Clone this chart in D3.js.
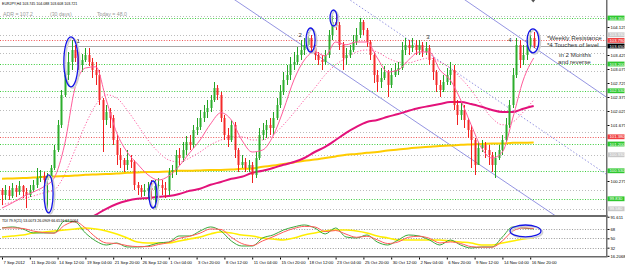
<!DOCTYPE html>
<html><head><meta charset="utf-8">
<script src="https://cdn.jsdelivr.net/npm/d3@7"></script>
<style>
body{margin:0;background:#fff}
svg{display:block}
text{font-family:"Liberation Sans",Arial,sans-serif}
</style></head>
<body><svg id="c" width="625" height="266"></svg>
<script>
// ---------- DATA (EURJPY H4, 2 bars per candle) ----------
const symbolTitle = "EURJPY,H4 103.745 104.088 103.608 103.721";
const adrText = ["ADR = 107.2", "(30 days)", "Today = 48.0"];
const tdiTitle = "TDI 79.9(21) 53.0073 26.0909 66.6516 67.5064";
const firstOpen = 100.05;
const closes = [99.925,100.05,99.9,100.1,100.0,100.15,100.0,99.925,100.05,100.175,
100.35,100.4,100.3,100.35,100.6,101.05,101.675,102.425,102.925,103.25,
103.55,103.35,103.175,103.3,103.425,103.25,103.05,102.925,102.3,101.8,
102.0,101.85,101.3,100.925,100.8,100.675,100.8,100.75,100.175,100.1,
100.0,100.05,100.1,100.05,100.15,100.175,100.1,100.05,100.5,100.55,
100.925,100.85,101.05,101.25,101.175,101.55,101.625,101.85,102.0,102.1,
102.3,102.6,102.425,101.85,101.425,101.3,101.675,101.05,100.675,100.75,
100.6,100.675,100.425,100.85,101.425,101.55,101.675,101.6,101.85,102.175,
102.5,102.8,102.925,103.175,103.25,103.425,103.55,103.675,103.85,103.6,
103.425,103.3,103.25,103.425,103.925,104.25,104.175,103.675,103.35,103.425,
103.55,103.75,103.925,104.25,104.05,103.75,103.425,102.925,102.75,102.85,
103.0,102.675,102.925,103.05,103.1,103.55,103.675,103.6,103.675,103.55,
103.675,103.5,103.6,103.3,103.0,102.675,102.55,102.75,102.925,103.05,
102.175,101.925,102.05,101.8,101.55,101.3,100.675,101.1,101.175,101.05,
100.925,100.675,100.85,101.05,101.3,101.675,102.175,102.925,103.675,103.3,
103.425,103.675,103.85,103.65];
const highs = [100.1,100.175,100.15,100.225,100.175,100.275,100.175,100.1,100.175,100.3,
100.6,100.55,100.5,100.475,100.675,101.175,101.8,102.55,103.1,103.5,
103.8,103.675,103.5,103.45,103.6,103.6,103.35,103.25,103.05,102.35,
102.175,102.1,101.925,101.425,101.1,100.85,101.05,100.925,100.8,100.25,
100.175,100.2,100.25,100.3,100.3,100.35,100.3,100.25,100.6,100.675,
101.05,101.1,101.25,101.4,101.425,101.675,101.85,102.05,102.175,102.3,
102.425,102.75,102.675,102.5,101.925,101.6,101.8,101.75,101.1,100.925,
100.85,100.8,100.75,101.0,101.6,101.725,101.8,101.85,102.0,102.35,
102.675,103.0,103.175,103.375,103.5,103.625,103.8,103.85,104.0,103.925,
103.675,103.5,103.425,103.55,104.05,104.425,104.475,104.25,103.75,103.6,
103.675,103.925,104.1,104.35,104.3,104.1,103.8,103.5,103.05,103.1,
103.15,103.05,103.1,103.225,103.25,103.75,103.85,103.8,103.85,103.8,
103.8,103.75,103.75,103.675,103.375,103.05,102.8,102.925,103.1,103.25,
103.175,102.3,102.225,102.175,101.85,101.675,101.35,101.25,101.3,101.25,
101.175,101.0,101.0,101.175,101.425,101.85,102.3,103.1,103.85,103.8,
103.675,103.8,104.05,104.0];
const lows = [99.675,99.8,99.8,99.85,99.875,99.925,99.85,99.6,99.875,100.0,
100.1,100.25,100.175,99.55,100.25,100.55,101.0,101.6,102.375,102.8,
103.05,103.25,103.05,103.0,103.25,103.15,102.85,102.675,102.175,101.0,
101.675,101.6,101.175,100.675,100.6,100.5,100.55,100.6,100.05,99.925,
99.875,99.9,99.85,99.8,99.6,100.0,99.925,99.85,99.925,100.35,
100.425,100.675,100.75,100.925,101.05,101.1,101.425,101.55,101.75,101.85,
102.0,102.25,102.3,101.75,101.3,101.125,101.25,100.85,100.5,100.6,
100.5,100.5,100.225,100.35,100.8,101.3,101.35,101.425,101.425,101.8,
102.1,102.425,102.675,102.8,103.05,103.175,103.3,103.425,103.55,103.5,
103.3,103.175,103.05,103.175,103.35,103.8,104.05,103.55,103.05,103.175,
103.35,103.5,103.675,103.85,103.925,103.625,103.3,102.725,102.5,102.6,
102.8,102.375,102.6,102.875,102.925,103.05,103.425,103.425,103.5,103.425,
103.425,103.375,103.425,103.175,102.8,102.5,102.375,102.5,102.675,102.675,
102.05,101.675,101.8,101.6,101.35,100.6,100.425,100.675,101.0,100.85,
100.675,100.5,100.35,100.8,100.925,101.25,101.6,102.1,102.85,103.1,
103.175,103.3,103.55,103.6];
// indicator samples, one every 3 candles
const sampleStep = 3;
const maYellow = [100.33,100.34,100.35,100.36,100.38,100.39,100.40,100.41,100.43,100.44,
100.45,100.46,100.48,100.49,100.50,100.50,100.51,100.53,100.53,100.54,
100.55,100.55,100.56,100.58,100.59,100.63,100.66,100.70,100.74,100.78,
100.81,100.85,100.89,100.93,100.95,100.98,101.00,101.04,101.06,101.09,
101.11,101.13,101.15,101.16,101.18,101.19,101.20,101.21,101.21,101.23,101.23,101.24];
const maMagenta = [null,null,null,null,null,null,null,null,99.28,99.43,
99.58,99.70,99.78,99.83,99.85,99.88,99.90,99.95,100.03,100.08,
100.18,100.25,100.33,100.38,100.48,100.53,100.60,100.68,100.75,100.85,
101.00,101.13,101.30,101.48,101.63,101.75,101.80,101.88,101.95,102.03,
102.10,102.15,102.20,102.25,102.25,102.20,102.13,102.05,102.00,102.00,102.08,102.15];
const maFastPink = [99.60,99.73,99.88,100.00,100.13,100.35,101.18,102.60,103.10,103.13,
102.30,101.48,101.00,100.70,100.43,100.30,100.40,100.65,100.98,101.30,
101.70,101.98,101.80,101.30,101.00,101.05,101.40,102.05,102.80,103.30,
103.50,103.40,103.75,103.68,103.75,103.75,103.35,103.00,103.05,103.30,
103.50,103.50,103.05,102.80,102.30,101.68,101.10,100.85,101.00,101.85,102.80,103.35];
const maDottedPink = [99.68,99.75,99.83,99.90,99.98,100.05,100.43,101.05,101.68,102.18,
102.43,102.35,102.05,101.68,101.30,101.00,100.80,100.75,100.85,101.00,
101.18,101.30,101.38,101.38,101.30,101.30,101.43,101.68,101.98,102.30,
102.60,102.93,103.18,103.35,103.50,103.55,103.50,103.35,103.25,103.23,
103.30,103.35,103.25,103.10,102.85,102.55,102.18,101.85,101.68,101.75,102.00,102.30];
const tdiGreen = [69.9,71.9,68,60.3,60.3,60.3,83.4,81.5,60.3,44.8,
37.1,41,33.3,33.3,35.2,41,42.9,54.5,54.5,64.1,
71.9,64.1,44.8,35.2,35.2,50.6,56.4,66,71.9,75.7,
69.9,58.4,69.9,52.6,50.6,56.4,42.9,37.1,46.8,56.4,
54.5,46.8,37.1,46.8,37.1,31.3,33.3,33.3,52.6,71.9,69.9,68];
const tdiRed = [70,70,69,64,61,60,75,82,70,52,
41,40,36,34,34,38,42,50,54,60,
68,67,52,40,36,45,53,62,69,73,
72,63,65,58,52,54,47,40,43,52,
54,50,41,43,40,34,33,33,45,64,70,69];
const tdiYellow = [52.6,54.5,56.4,60.3,62.2,64.1,66,68,69.9,68,
64.1,58.4,50.6,42.9,41,41,41,44.8,48.7,52.6,
58.4,62.2,60.3,56.4,54.5,50.6,48.7,46.8,50.6,56.4,
60.3,64.1,66,66,64.1,60.3,54.5,50.6,46.8,46.8,
46.8,46.8,46.8,44.8,42.9,41,37.1,37.1,41,44.8,48.7,50.6];
const tdiLevels = [68, 50, 32];
const tdiAxisLabels = ["91.611","68","50","32","16.2068"];
const tdiAxisValues = [91.611,68,50,32,16.2068];
// horizontal levels
const greyLevels = [104.41,103.93,103.48,103.03,102.38,102.05,101.50,100.93,100.05,99.58];
const greenLevels = [104.35,103.20,102.53,101.20,100.53,99.83];
const redLevels = [103.79,101.38];
const greyBoxLevels = [103.93,100.93,99.58];
const bidPrice = 103.65;
const priceTicks = [104.125,103.425,103.075,102.725,102.375,102.025,101.675,100.275];
const timeLabels = ["7 Sep 2012","11 Sep 20:00","14 Sep 12:00","19 Sep 04:00","21 Sep 20:00","26 Sep 12:00","1 Oct 04:00","3 Oct 20:00","8 Oct 12:00","11 Oct 04:00","15 Oct 20:00","18 Oct 12:00","23 Oct 04:00","25 Oct 20:00","30 Oct 12:00","2 Nov 04:00","6 Nov 20:00","9 Nov 12:00","14 Nov 04:00","16 Nov 20:00"];
const candlesPerLabel = 8;
// annotations (candle index / price)
const ellipses = [[17.8,21.9,103.88,102.63],[12.1,14.7,100.43,99.48],[42.3,44.6,100.28,99.60],[87.5,90.1,104.10,103.50],[94.4,96.4,104.55,104.15],[151.1,154.5,104.08,103.48]];
const tdiEllipse = [146.2,155.1,75.7,52.6];
const trendLines = [[67.9,104.75,149.1,100.0,"solid"],[101,104.75,173.8,100.45,"dot"],[134.1,104.75,173.8,102.38,"solid"]];
const waveLabels = [["1",21.9,103.73],["2",85.8,103.88],["3",122.6,103.83],["4",146.2,103.75]];
const noteLines = [["*Weekly Resistance",156.8,103.81],["*4 Touches of level",156.8,103.62],["in 2 Months",160.3,103.37],["and reverse",160.0,103.19]];

// ---------- LAYOUT ----------
const svg = d3.select("#c");
const plotR = 606, mainB = 215, tdiT = 217, tdiB = 256;
const x = d3.scaleLinear().domain([0,152]).range([2,530.2]);
const y = d3.scaleLinear().domain([99.425,104.8]).range([215,0]);
const yT = d3.scaleLinear().domain([14,93]).range([257,216]);
const defs = svg.append("defs");
defs.append("clipPath").attr("id","cm").append("rect").attr("x",0).attr("y",0).attr("width",plotR).attr("height",mainB);
defs.append("clipPath").attr("id","ct").append("rect").attr("x",0).attr("y",tdiT).attr("width",plotR).attr("height",tdiB-tdiT);

svg.append("rect").attr("width",625).attr("height",266).attr("fill","#fff");
const gm = svg.append("g").attr("clip-path","url(#cm)");
const gt = svg.append("g").attr("clip-path","url(#ct)");

// levels
function hline(g, p, col, dash, w){
  g.append("line").attr("x1",0).attr("x2",plotR).attr("y1",Math.round(y(p))+0.5).attr("y2",Math.round(y(p))+0.5)
   .attr("stroke",col).attr("stroke-width",w||1).attr("stroke-dasharray",dash);
}
greyLevels.forEach(p=>hline(gm,p,"#bcbcbc","1,2"));
greenLevels.forEach(p=>hline(gm,p,"#3ccc3c","1,1.6"));
redLevels.forEach(p=>hline(gm,p,"#ee5555","1,1.6"));
hline(gm,bidPrice,"#a8a8a8",null,1.2);

// trendlines
trendLines.forEach(t=>{
  const x1=x(t[0]),y1=y(t[1]),x2=x(t[2]),y2=y(t[3]);
  const s=(y2-y1)/(x2-x1);
  gm.append("line").attr("x1",x1-20).attr("y1",y1-20*s).attr("x2",x2+60).attr("y2",y2+60*s)
    .attr("stroke","#8a8ae0").attr("stroke-width",1).attr("opacity",0.9)
    .attr("stroke-dasharray",t[4]==="dot"?"1.5,2":null);
});

// moving averages
const idx = (d,k)=>x(k*sampleStep);
function maLine(g, arr, col, w, dash, sc){
  const ln = d3.line().defined(d=>d!=null).x((d,k)=>idx(d,k)).y(d=>sc(d)).curve(d3.curveMonotoneX);
  g.append("path").datum(arr).attr("d",ln).attr("fill","none").attr("stroke",col)
   .attr("stroke-width",w).attr("stroke-dasharray",dash).attr("stroke-linejoin","round");
}
maLine(gm, maDottedPink, "#ff5fa3", 1, "1.2,1.8", y);
maLine(gm, maYellow, "#ffcc00", 2, null, y);
maLine(gm, maMagenta, "#e3127a", 2, null, y);

// candles
const opens = closes.map((c,i)=> i===0 ? firstOpen : closes[i-1]);
const cd = closes.map((c,i)=>({i, o:opens[i], c, h:Math.max(highs[i],opens[i],c), l:Math.min(lows[i],opens[i],c)}));
const cg = gm.append("g");
cg.selectAll("line.w").data(cd).join("line").attr("class","w")
  .attr("x1",d=>Math.round(x(d.i))+0.5).attr("x2",d=>Math.round(x(d.i))+0.5)
  .attr("y1",d=>y(d.h)).attr("y2",d=>y(d.l))
  .attr("stroke",d=>d.c>=d.o?"#24a424":"#f02020").attr("stroke-width",1);
cg.selectAll("rect.b").data(cd).join("rect").attr("class","b")
  .attr("x",d=>Math.round(x(d.i))-0.5).attr("width",2)
  .attr("y",d=>y(Math.max(d.o,d.c))).attr("height",d=>Math.max(1,Math.abs(y(d.o)-y(d.c))))
  .attr("fill",d=>d.c>=d.o?"#2cae2c":"#f42a2a");

maLine(gm, maFastPink, "#ff5c9a", 1, null, y);

// ellipses
function ell(g, e, sc){
  const cx=(x(e[0])+x(e[1]))/2, rx=(x(e[1])-x(e[0]))/2, cy=(sc(e[2])+sc(e[3]))/2, ry=Math.abs(sc(e[3])-sc(e[2]))/2;
  g.append("ellipse").attr("cx",cx+1.6).attr("cy",cy+1.2).attr("rx",rx).attr("ry",ry).attr("fill","none").attr("stroke","#d0d0d0").attr("stroke-width",1.6);
  g.append("ellipse").attr("cx",cx).attr("cy",cy).attr("rx",rx).attr("ry",ry).attr("fill","none").attr("stroke","#1414e6").attr("stroke-width",1.3);
}
ellipses.forEach(e=>ell(gm,e,y));

// labels in main pane
waveLabels.forEach(w=>gm.append("text").attr("x",x(w[1])).attr("y",y(w[2])).attr("font-size",6).attr("fill","#333").attr("text-anchor","middle").text(w[0]));
noteLines.forEach(n=>gm.append("text").attr("x",x(n[1])).attr("y",y(n[2])).attr("font-size",6.2).attr("fill","#333").text(n[0]));
svg.append("text").attr("x",2).attr("y",5).attr("font-size",3.6).attr("fill","#000").text(symbolTitle);
[[3,adrText[0]],[50,adrText[1]],[97,adrText[2]]].forEach(a=>svg.append("text").attr("x",a[0]).attr("y",16).attr("font-size",5.2).attr("fill","#9a9a9a").text(a[1]));
svg.append("path").attr("d",`M${x(152)+1},0 l4,0 l-2,2.5z`).attr("fill","#555");

// TDI pane
tdiLevels.forEach(v=>gt.append("line").attr("x1",0).attr("x2",plotR).attr("y1",Math.round(yT(v))+0.5).attr("y2",Math.round(yT(v))+0.5).attr("stroke","#9a9a9a").attr("stroke-dasharray","1,1.6"));
maLine(gt, tdiYellow, "#ffee00", 1.6, null, yT);
maLine(gt, tdiGreen, "#3aa83a", 1, null, yT);
maLine(gt, tdiRed, "#ff5a5a", 1, null, yT);
ell(gt, tdiEllipse, yT);
svg.append("text").attr("x",2).attr("y",222).attr("font-size",3.6).attr("fill","#000").text(tdiTitle);

// frames
svg.append("rect").attr("x",plotR).attr("y",0).attr("width",1.5).attr("height",tdiB).attr("fill","#707070");
svg.append("rect").attr("x",0).attr("y",mainB).attr("width",plotR+1.5).attr("height",2).attr("fill","#6a6a6a");
svg.append("rect").attr("x",0).attr("y",tdiB).attr("width",plotR+1.5).attr("height",1.5).attr("fill","#6a6a6a");

// right price axis
const ax = svg.append("g").attr("transform",`translate(${plotR+1.5},0)`)
  .call(d3.axisRight(y).tickValues(priceTicks).tickFormat(d3.format(".3f")).tickSize(2).tickPadding(1));
ax.select(".domain").remove();
ax.selectAll("text").attr("font-size",4.3).attr("fill","#000");
function box(p,bg,fg){
  const g=svg.append("g");
  g.append("rect").attr("x",plotR+1.5).attr("y",y(p)-2.4).attr("width",17).attr("height",4.8).attr("fill",bg);
  g.append("text").attr("x",plotR+3.5).attr("y",y(p)+1.5).attr("font-size",4.2).attr("fill",fg).text(d3.format(".3f")(p));
}
greyBoxLevels.forEach(p=>box(p,"#c8c8c8","#fff"));
greenLevels.forEach(p=>box(p,"#2ec82e","#fff"));
redLevels.forEach(p=>box(p,"#f04040","#fff"));
box(bidPrice,"#000","#fff");

// TDI axis
const at = svg.append("g").attr("transform",`translate(${plotR+1.5},0)`)
  .call(d3.axisRight(yT).tickValues(tdiAxisValues).tickFormat((d,i)=>tdiAxisLabels[i]).tickSize(2).tickPadding(1));
at.select(".domain").remove();
at.selectAll("text").attr("font-size",4.2).attr("fill","#000");

// time axis
const tickIdx = timeLabels.map((_,k)=>k*candlesPerLabel);
const axb = svg.append("g").attr("transform",`translate(0,${tdiB+1.5})`)
  .call(d3.axisBottom(x).tickValues(tickIdx).tickFormat((d,i)=>timeLabels[i]).tickSize(2).tickPadding(1.5));
axb.select(".domain").remove();
axb.selectAll("text").attr("font-size",4.2).attr("fill","#000").attr("text-anchor","start").attr("dx",1);
</script></body></html>
